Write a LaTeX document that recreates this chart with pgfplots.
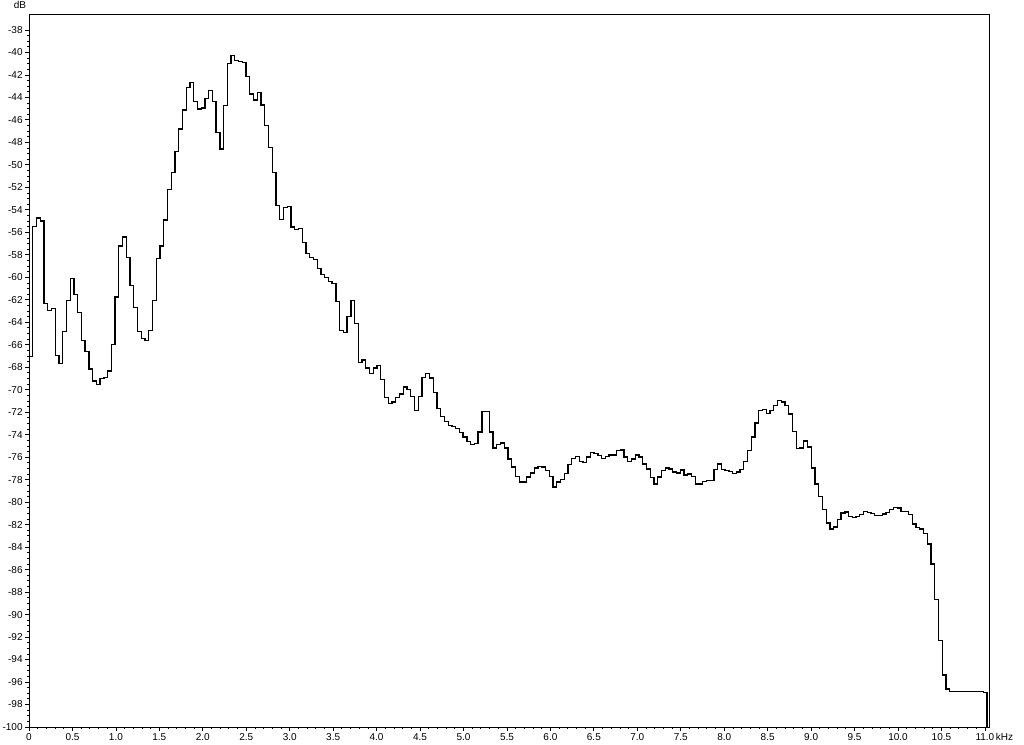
\documentclass[border=0pt]{standalone}
\usepackage{fontspec}
\setmainfont{Liberation Sans}
\usepackage{pgfplots}
\usepackage{pgfplotstable}
\pgfplotsset{compat=1.18}

% spectrum level per FFT bin (bin width 11025/256 Hz)
\pgfplotstableread{
db
-67.04
-55.46
-54.72
-55.00
-62.33
-62.96
-62.78
-66.96
-67.67
-64.84
-62.06
-60.09
-61.52
-63.13
-65.64
-66.63
-68.15
-69.22
-69.55
-69.01
-68.93
-68.33
-65.97
-61.76
-57.22
-56.42
-58.21
-60.72
-62.66
-64.84
-65.46
-65.64
-64.75
-62.06
-58.30
-57.22
-54.90
-52.21
-50.68
-48.81
-46.82
-45.13
-43.11
-42.66
-44.38
-45.04
-44.95
-44.09
-43.37
-44.38
-47.12
-48.60
-44.74
-40.97
-40.26
-40.70
-40.80
-40.91
-42.13
-43.70
-44.24
-43.55
-44.68
-46.52
-48.45
-50.68
-53.60
-54.84
-53.80
-53.70
-55.52
-55.73
-55.64
-56.91
-57.89
-58.25
-58.43
-59.20
-59.77
-60.03
-60.36
-60.57
-62.17
-64.72
-64.90
-63.50
-62.08
-64.10
-67.55
-67.37
-68.08
-68.55
-68.08
-67.82
-69.09
-70.72
-71.23
-71.08
-70.72
-70.37
-69.77
-69.98
-70.63
-71.85
-70.63
-68.94
-68.53
-68.97
-70.27
-71.70
-72.41
-72.80
-73.19
-73.30
-73.48
-73.80
-74.20
-74.60
-74.90
-74.80
-73.75
-71.91
-71.91
-73.75
-75.18
-74.88
-74.73
-75.18
-76.16
-76.87
-77.70
-78.20
-78.20
-77.76
-77.40
-76.96
-76.81
-76.87
-77.17
-77.70
-78.65
-78.20
-78.00
-77.46
-76.66
-76.10
-75.92
-76.36
-76.45
-75.98
-75.56
-75.68
-75.86
-76.13
-75.92
-75.80
-75.80
-75.41
-75.35
-75.98
-76.39
-76.16
-75.80
-75.98
-76.60
-77.05
-77.79
-78.38
-77.76
-77.17
-76.96
-77.05
-77.31
-77.40
-77.14
-77.58
-77.49
-77.70
-78.38
-78.38
-78.18
-78.09
-78.09
-77.11
-76.60
-77.11
-77.17
-77.28
-77.46
-77.31
-77.11
-76.39
-75.38
-74.20
-72.95
-71.85
-71.76
-72.12
-71.85
-71.41
-70.99
-71.08
-71.41
-72.15
-73.69
-75.24
-75.18
-74.55
-75.09
-76.96
-78.38
-79.48
-80.67
-81.86
-82.39
-82.21
-81.56
-80.97
-80.88
-81.26
-81.35
-81.26
-81.11
-80.82
-80.91
-81.03
-81.20
-81.20
-81.06
-80.91
-80.67
-80.46
-80.52
-80.82
-80.82
-81.12
-81.95
-82.24
-82.39
-82.81
-83.73
-85.51
-88.63
-92.31
-95.37
-96.61
-96.85
-96.85
-96.85
-96.85
-96.85
-96.85
-96.85
-96.85
-96.85
-96.94
-100.00
}\spectrum

\begin{document}
\begin{tikzpicture}
\begin{axis}[
    scale only axis,
    width=480pt, height=356pt,
    xmin=0, xmax=11.047,
    ymin=-100, ymax=-36.67,
    axis line style={line width=0.5pt},
    tick pos=left,
    tick align=outside,
    major tick length=2pt,
    minor tick length=1pt,
    tick style={black, line width=0.4pt},
    xtick={0,0.5,...,11},
    minor x tick num=4,
    xticklabels={0,0.5,1.0,1.5,2.0,2.5,3.0,3.5,4.0,4.5,5.0,5.5,6.0,6.5,7.0,7.5,8.0,8.5,9.0,9.5,10.0,10.5,{11.0\rlap{\,kHz}}},
    ytick={-100,-98,...,-38},
    minor y tick num=3,
    /pgf/number format/assume math mode=true,
    ticklabel style={font=\fontsize{5}{6}\selectfont, inner sep=1pt},
    clip=false,
]
\addplot[const plot, black, line width=0.65pt]
    table[x expr=\coordindex*0.0430664, y=db] {\spectrum};
\node[font=\fontsize{5}{6}\selectfont] at (rel axis cs:0,1) [xshift=-4.5pt, yshift=5pt] {dB};
\coordinate (bl) at (rel axis cs:0,0);
\coordinate (tr) at (rel axis cs:1,1);
\end{axis}
\pgfresetboundingbox
\path[use as bounding box] ([xshift=-14.5pt,yshift=-9pt]bl) rectangle ([xshift=17.5pt,yshift=7.5pt]tr);
\end{tikzpicture}
\end{document}
